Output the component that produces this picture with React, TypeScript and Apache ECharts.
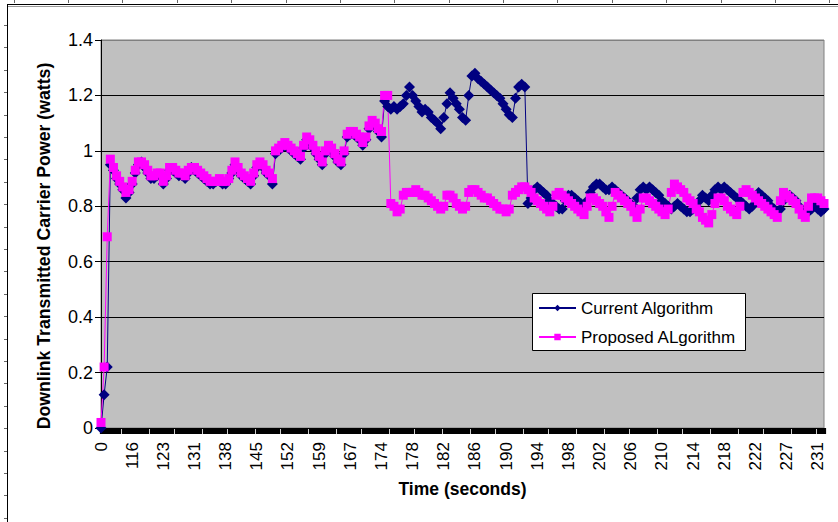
import React, { useEffect, useRef } from "react";
import * as echarts from "echarts";

// Category tick labels (time in seconds), one every 10 samples
const tickLabels = [
  "0", "116", "123", "131", "138", "145", "152", "159", "167", "174", "178", "182",
  "186", "190", "194", "198", "202", "206", "210", "214", "218", "222", "227", "231",
];
const samplesPerLabel = 10;

// Downlink transmitted carrier power (watts)
const currentAlgorithm = [
  0.00, 0.12, 0.22, 0.95, 0.93, 0.90, 0.88, 0.86, 0.83, 0.85,
  0.88, 0.92, 0.95, 0.96, 0.94, 0.92, 0.90, 0.90, 0.91, 0.91,
  0.88, 0.90, 0.93, 0.93, 0.92, 0.91, 0.91, 0.90, 0.92, 0.94,
  0.93, 0.92, 0.91, 0.90, 0.89, 0.88, 0.88, 0.89, 0.89, 0.88,
  0.88, 0.90, 0.92, 0.95, 0.93, 0.91, 0.90, 0.89, 0.88, 0.91,
  0.94, 0.95, 0.94, 0.92, 0.91, 0.88, 0.99, 1.00, 1.01, 1.02,
  1.01, 1.00, 0.99, 0.98, 0.97, 1.01, 1.04, 1.03, 1.01, 0.99,
  0.97, 0.95, 0.99, 1.01, 1.00, 0.98, 0.96, 0.95, 0.99, 1.05,
  1.06, 1.06, 1.05, 1.04, 1.02, 1.04, 1.08, 1.10, 1.09, 1.07,
  1.05, 1.18, 1.16, 1.15, 1.16, 1.15, 1.16, 1.17, 1.20, 1.23,
  1.20, 1.18, 1.16, 1.14, 1.15, 1.14, 1.12, 1.11, 1.10, 1.08,
  1.12, 1.17, 1.21, 1.19, 1.17, 1.15, 1.12, 1.11, 1.20, 1.27,
  1.28, 1.26, 1.25, 1.24, 1.23, 1.22, 1.21, 1.20, 1.19, 1.17,
  1.15, 1.13, 1.12, 1.19, 1.23, 1.24, 1.23, 0.81, 0.83, 0.86,
  0.87, 0.86, 0.85, 0.84, 0.82, 0.81, 0.80, 0.79, 0.79, 0.82,
  0.84, 0.84, 0.83, 0.82, 0.81, 0.80, 0.82, 0.85, 0.87, 0.88,
  0.88, 0.87, 0.86, 0.86, 0.87, 0.86, 0.85, 0.84, 0.83, 0.82,
  0.81, 0.80, 0.83, 0.86, 0.87, 0.86, 0.87, 0.86, 0.85, 0.84,
  0.82, 0.81, 0.80, 0.79, 0.80, 0.81, 0.80, 0.79, 0.78, 0.78,
  0.79, 0.80, 0.82, 0.84, 0.83, 0.82, 0.84, 0.86, 0.87, 0.86,
  0.87, 0.86, 0.85, 0.84, 0.83, 0.82, 0.81, 0.80, 0.79, 0.80,
  0.83, 0.85, 0.84, 0.83, 0.82, 0.80, 0.79, 0.78, 0.79, 0.82,
  0.84, 0.84, 0.83, 0.82, 0.80, 0.78, 0.77, 0.78, 0.79, 0.80,
  0.79, 0.78, 0.79,
];

const proposedAlgorithm = [
  0.02, 0.22, 0.69, 0.97, 0.94, 0.91, 0.89, 0.87, 0.85, 0.86,
  0.89, 0.93, 0.96, 0.96, 0.95, 0.93, 0.91, 0.91, 0.92, 0.92,
  0.89, 0.91, 0.94, 0.94, 0.93, 0.92, 0.92, 0.91, 0.93, 0.94,
  0.94, 0.93, 0.92, 0.91, 0.90, 0.89, 0.89, 0.89, 0.90, 0.89,
  0.89, 0.90, 0.93, 0.96, 0.94, 0.92, 0.91, 0.90, 0.89, 0.92,
  0.95, 0.96, 0.95, 0.93, 0.92, 0.90, 1.00, 1.01, 1.02, 1.03,
  1.02, 1.01, 1.00, 0.99, 0.98, 1.02, 1.05, 1.04, 1.02, 1.00,
  0.98, 0.96, 1.00, 1.02, 1.01, 0.99, 0.97, 0.96, 1.00, 1.06,
  1.07, 1.07, 1.06, 1.05, 1.03, 1.05, 1.09, 1.11, 1.10, 1.08,
  1.07, 1.20, 1.20, 0.81, 0.80, 0.78, 0.79, 0.84, 0.85, 0.85,
  0.85, 0.86, 0.85, 0.84, 0.84, 0.83, 0.82, 0.81, 0.80, 0.79,
  0.80, 0.84, 0.84, 0.83, 0.81, 0.80, 0.79, 0.80, 0.85, 0.86,
  0.86, 0.85, 0.84, 0.83, 0.83, 0.82, 0.81, 0.80, 0.79, 0.79,
  0.78, 0.79, 0.84, 0.85, 0.86, 0.87, 0.87, 0.86, 0.85, 0.83,
  0.82, 0.81, 0.80, 0.79, 0.78, 0.80, 0.84, 0.85, 0.84, 0.83,
  0.82, 0.81, 0.80, 0.79, 0.78, 0.77, 0.80, 0.83, 0.83, 0.82,
  0.81, 0.80, 0.78, 0.76, 0.80, 0.85, 0.84, 0.83, 0.82, 0.81,
  0.80, 0.78, 0.76, 0.79, 0.83, 0.83, 0.82, 0.81, 0.80, 0.79,
  0.78, 0.77, 0.79, 0.85, 0.88, 0.87, 0.86, 0.85, 0.83, 0.82,
  0.81, 0.79, 0.78, 0.76, 0.75, 0.74, 0.77, 0.81, 0.83, 0.83,
  0.82, 0.80, 0.79, 0.78, 0.77, 0.80, 0.85, 0.86, 0.85, 0.84,
  0.83, 0.82, 0.81, 0.80, 0.79, 0.78, 0.77, 0.76, 0.82, 0.85,
  0.84, 0.83, 0.82, 0.81, 0.79, 0.77, 0.76, 0.80, 0.83, 0.83,
  0.83, 0.82, 0.81,
];

const seriesNames = ["Current Algorithm", "Proposed ALgorithm"];

const FONT = "'Liberation Sans', Arial, sans-serif";

export default function App() {
  const ref = useRef<HTMLDivElement>(null);

  useEffect(() => {
    if (!ref.current) return;
    const chart = echarts.init(ref.current, null, { renderer: "svg" });
    const sampleIndex = currentAlgorithm.map((_, i) => String(i));

    // decorative page frame (ruler-like border seen at the top/left of the picture)
    const frame: any[] = [
      { type: "line", shape: { x1: 7, y1: 4.5, x2: 838, y2: 4.5 }, style: { stroke: "#000", lineWidth: 1 } },
      { type: "line", shape: { x1: 8, y1: 6.5, x2: 838, y2: 6.5 }, style: { stroke: "#999", lineWidth: 1 } },
      { type: "line", shape: { x1: 7.5, y1: 4, x2: 7.5, y2: 522 }, style: { stroke: "#000", lineWidth: 1 } },
    ];
    for (let x = 13.5; x < 838; x += 54.4) {
      frame.push({ type: "line", shape: { x1: Math.round(x) + 0.5, y1: 0, x2: Math.round(x) + 0.5, y2: 3 }, style: { stroke: "#666", lineWidth: 1 } });
    }
    for (let y = 25; y < 522; y += 22.4) {
      frame.push({ type: "line", shape: { x1: 4, y1: Math.round(y) + 0.5, x2: 7, y2: Math.round(y) + 0.5 }, style: { stroke: "#666", lineWidth: 1 } });
    }
    // legend box
    frame.push({
      type: "rect",
      z: 50,
      shape: { x: 532.5, y: 293.5, width: 213, height: 57 },
      style: { fill: "#fff", stroke: "#000", lineWidth: 1 },
    });

    chart.setOption({
      animation: false,
      backgroundColor: "#fff",
      textStyle: { fontFamily: FONT },
      grid: {
        left: 101,
        right: 14,
        top: 40,
        bottom: 94,
        show: true,
        backgroundColor: "#C0C0C0",
        borderColor: "#808080",
        borderWidth: 1,
        containLabel: false,
      },
      graphic: { elements: frame },
      legend: {
        z: 100,
        left: 538,
        top: 298,
        orient: "vertical",
        itemGap: 9,
        itemWidth: 37,
        itemHeight: 8,
        padding: 0,
        data: seriesNames,
        textStyle: { fontSize: 17, color: "#000", fontFamily: FONT, lineHeight: 20 },
      },
      xAxis: {
        type: "category",
        data: sampleIndex,
        boundaryGap: false,
        name: "Time (seconds)",
        nameLocation: "middle",
        nameGap: 52,
        nameTextStyle: { fontSize: 17.5, fontWeight: "bold", color: "#000", fontFamily: FONT },
        axisLine: { show: true, lineStyle: { color: "#000", width: 1 } },
        axisTick: { show: true, interval: 0, length: 6, lineStyle: { color: "#000", width: 3.2 } },
        axisLabel: {
          interval: samplesPerLabel - 1,
          rotate: 90,
          margin: 14,
          fontSize: 17,
          color: "#000",
          fontFamily: FONT,
          formatter: (_v: string, i: number) => tickLabels[i / samplesPerLabel] ?? "",
        },
        splitLine: { show: false },
      },
      yAxis: {
        type: "value",
        min: 0,
        max: 1.4,
        interval: 0.2,
        name: "Downlink Transmitted Carrier Power (watts)",
        nameLocation: "middle",
        nameGap: 48,
        nameTextStyle: {
          fontSize: 17.7,
          fontWeight: "bold",
          color: "#000",
          fontFamily: FONT,
          padding: [0, 24, 0, 0],
        },
        axisLine: { show: true, lineStyle: { color: "#000", width: 1 } },
        axisTick: { show: true, length: 6, lineStyle: { color: "#000", width: 1 } },
        axisLabel: { fontSize: 18, color: "#000", margin: 8, fontFamily: FONT },
        splitLine: {
          show: true,
          lineStyle: {
            color: ["#000", "#000", "#000", "#000", "#000", "#000", "#000", "#808080"],
            width: 1,
          },
        },
      },
      series: [
        {
          name: seriesNames[0],
          type: "line",
          data: currentAlgorithm,
          symbol: "diamond",
          symbolSize: 11,
          showSymbol: true,
          showAllSymbol: true,
          itemStyle: { color: "#000080", borderWidth: 0 },
          lineStyle: { color: "#000080", width: 1 },
          emphasis: { disabled: true },
        },
        {
          name: seriesNames[1],
          type: "line",
          data: proposedAlgorithm,
          symbol: "rect",
          symbolSize: 9,
          showSymbol: true,
          showAllSymbol: true,
          itemStyle: { color: "#FF00FF", borderWidth: 0 },
          lineStyle: { color: "#FF00FF", width: 1 },
          emphasis: { disabled: true },
        },
      ],
    });

    return () => chart.dispose();
  }, []);

  return (
    <div
      ref={ref}
      style={{ position: "fixed", left: 0, top: 0, width: 838, height: 522, background: "#fff" }}
    />
  );
}
